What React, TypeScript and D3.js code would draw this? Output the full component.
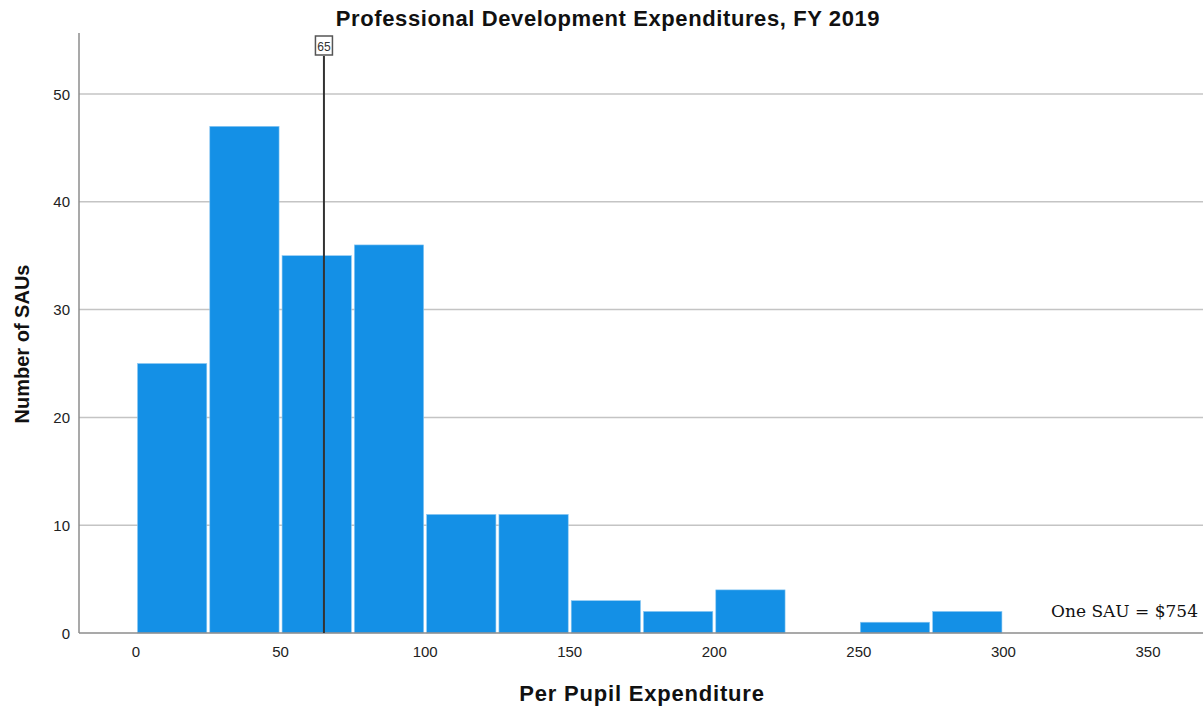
import React from "react";
import * as d3 from "d3";

const binStarts = [0, 25, 50, 75, 100, 125, 150, 175, 200, 225, 250, 275];
const binWidth = 25;
const counts = [25, 47, 35, 36, 11, 11, 3, 2, 4, 0, 1, 2];
const xTicks = [0, 50, 100, 150, 200, 250, 300, 350];
const yTicks = [0, 10, 20, 30, 40, 50];
const meanValue = 65;
const title = "Professional Development Expenditures, FY 2019";
const xLabel = "Per Pupil Expenditure";
const yLabel = "Number of SAUs";
const note = "One SAU = $754";

export default function App() {
  const W = 1203, H = 708;
  const left = 79, right = 1203, top = 33, bottom = 633;
  const x = d3.scaleLinear().domain([0, 350]).range([136, 1148]);
  const y = d3.scaleLinear().domain([0, 50]).range([bottom, 94]);
  const font = "Arial, 'Liberation Sans', sans-serif";
  const mx = x(meanValue);
  return (
    <svg width={W} height={H} style={{ position: "absolute", left: 0, top: 0, background: "#fff" }}>
      {yTicks.filter(t => t > 0).map(t => (
        <line key={"g" + t} x1={left} x2={right} y1={y(t)} y2={y(t)} stroke="#c4c4c4" strokeWidth={1.5} />
      ))}
      {binStarts.map((b, i) => counts[i] > 0 && (
        <rect key={"b" + i}
          x={x(b) + 1.5} width={x(b + binWidth) - x(b) - 3}
          y={y(counts[i])} height={y(0) - y(counts[i])}
          fill="#1490e6" stroke="#8cc8f2" strokeWidth={0.6} />
      ))}
      <line x1={left} x2={left} y1={top} y2={bottom} stroke="#8c8c8c" strokeWidth={1.5} />
      <line x1={left} x2={right} y1={bottom} y2={bottom} stroke="#8c8c8c" strokeWidth={1.5} />
      <line x1={mx} x2={mx} y1={bottom} y2={56} stroke="#333" strokeWidth={2} />
      <rect x={mx - 8.5} y={36} width={17} height={19} fill="#fff" stroke="#555" strokeWidth={1.5} />
      <text x={mx} y={50.5} textAnchor="middle" fontFamily={font} fontSize={12} fill="#333">{meanValue}</text>
      {yTicks.map(t => (
        <text key={"yt" + t} x={70} y={y(t) + 5.5} textAnchor="end" fontFamily={font} fontSize={15} fill="#222">{t}</text>
      ))}
      {xTicks.map(t => (
        <text key={"xt" + t} x={x(t)} y={657} textAnchor="middle" fontFamily={font} fontSize={15} fill="#222">{t}</text>
      ))}
      <text x={608} y={26} textAnchor="middle" fontFamily={font} fontSize={22} fontWeight="bold" letterSpacing={0.6} fill="#111">{title}</text>
      <text x={642} y={701} textAnchor="middle" fontFamily={font} fontSize={22} fontWeight="bold" letterSpacing={0.8} fill="#111">{xLabel}</text>
      <text transform={`translate(29,344) rotate(-90)`} textAnchor="middle" fontFamily={font} fontSize={20} fontWeight="bold" fill="#111">{yLabel}</text>
      <text x={1198} y={617} textAnchor="end" fontFamily="'DejaVu Serif', 'Liberation Serif', serif" fontSize={17} fill="#111">{note}</text>
    </svg>
  );
}
